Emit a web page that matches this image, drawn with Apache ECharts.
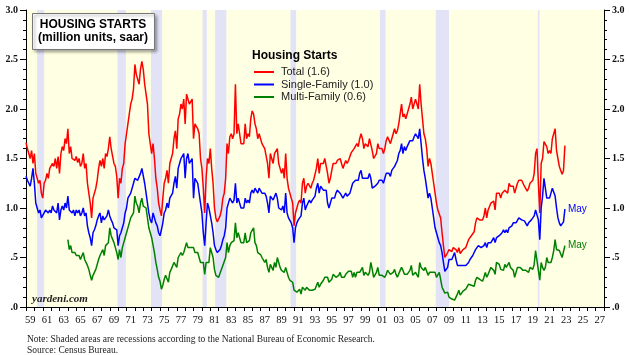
<!DOCTYPE html>
<html><head><meta charset="utf-8">
<script src="https://cdn.jsdelivr.net/npm/echarts@6/dist/echarts.min.js"></script>
<style>html,body{margin:0;padding:0;background:#fff}#c{width:630px;height:355px}</style>
</head><body><div id="c"></div>
<script>
// bi-monthly values (Jan, Mar, May, Jul, Sep, Nov) in million units, saar
const startTotal = 1959;
const total = [
1.66,1.60,1.55,1.50,1.58,1.45,
1.55,1.35,1.30,1.25,1.28,1.15,
1.10,1.25,1.28,1.35,1.30,1.40,
1.38,1.45,1.42,1.50,1.40,1.52,
1.35,1.55,1.62,1.58,1.70,1.65,
1.80,1.55,1.62,1.50,1.52,1.48,
1.52,1.46,1.50,1.42,1.45,1.55,
1.40,1.45,1.25,1.15,1.05,0.90,
1.10,1.12,1.20,1.28,1.40,1.48,
1.42,1.50,1.40,1.55,1.52,1.60,
1.72,1.60,1.58,1.45,1.42,1.32,
1.10,1.30,1.25,1.40,1.45,1.65,
1.75,1.85,1.95,2.05,2.10,2.20,
2.45,2.35,2.30,2.25,2.40,2.48,
2.40,2.25,2.15,2.05,1.75,1.65,
1.55,1.65,1.50,1.30,1.20,1.05,
0.98,0.92,1.10,1.25,1.30,1.38,
1.25,1.45,1.50,1.55,1.70,1.78,
1.60,1.90,1.95,2.05,2.00,2.10,
1.85,2.15,2.15,2.05,2.05,2.10,
1.70,1.85,1.85,1.80,1.75,1.50,
1.40,1.20,0.95,1.30,1.50,1.45,
1.60,1.40,1.25,1.00,0.90,0.86,
0.85,0.92,0.98,1.10,1.15,1.30,
1.65,1.55,1.72,1.75,1.70,1.75,
2.25,1.75,1.85,1.85,1.65,1.65,
1.65,1.85,1.70,1.75,1.72,1.90,
1.98,1.95,1.85,1.80,1.70,1.75,
1.75,1.65,1.65,1.60,1.60,1.45,
1.30,1.55,1.50,1.45,1.55,1.55,
1.60,1.45,1.40,1.35,1.40,1.30,
1.55,1.30,1.20,1.15,1.10,1.05,
0.82,0.95,1.00,1.05,1.08,1.05,
1.25,1.30,1.15,1.22,1.25,1.25,
1.20,1.25,1.28,1.30,1.40,1.50,
1.35,1.45,1.45,1.45,1.50,1.48,
1.35,1.25,1.30,1.38,1.45,1.43,
1.45,1.48,1.50,1.50,1.45,1.40,
1.40,1.48,1.45,1.48,1.50,1.56,
1.55,1.60,1.58,1.65,1.62,1.70,
1.75,1.70,1.60,1.65,1.65,1.62,
1.70,1.70,1.58,1.50,1.52,1.55,
1.65,1.60,1.62,1.60,1.55,1.60,
1.68,1.72,1.70,1.65,1.70,1.75,
1.80,1.75,1.78,1.85,1.95,2.05,
1.92,1.95,1.90,1.95,2.00,2.05,
2.12,2.00,2.05,2.10,2.08,2.00,
2.25,2.05,1.90,1.75,1.70,1.60,
1.42,1.50,1.45,1.35,1.25,1.15,
1.05,0.98,1.00,0.90,0.75,0.62,
0.50,0.50,0.55,0.58,0.58,0.56,
0.60,0.62,0.58,0.55,0.60,0.54,
0.55,0.58,0.57,0.60,0.62,0.68,
0.70,0.72,0.74,0.76,0.85,0.90,
0.92,0.88,0.86,0.88,0.92,1.00,
0.90,0.98,1.00,1.05,1.05,1.07,
0.98,1.15,1.15,1.15,1.10,1.15,
1.15,1.18,1.18,1.15,1.25,1.22,
1.20,1.22,1.15,1.17,1.25,1.28,
1.30,1.28,1.25,1.22,1.22,1.17,
1.20,1.25,1.26,1.28,1.35,1.55,
1.60,1.25,0.95,1.45,1.50,1.67,
1.65,1.62,1.55,1.58,1.55,1.70,
1.70,1.80,1.58,1.50,1.42,1.38,
1.34,1.38,1.63
];
const single = [
1.32,1.28,1.25,1.22,1.30,1.40,
1.25,1.05,1.00,0.95,0.98,0.90,
0.88,0.95,0.98,1.00,0.95,0.98,
0.95,1.02,0.98,1.00,0.95,1.05,
0.88,0.98,1.02,0.98,1.05,1.00,
1.12,0.98,1.00,0.95,0.98,0.92,
0.98,0.95,0.98,0.92,0.95,1.00,
0.92,0.95,0.82,0.75,0.70,0.62,
0.75,0.78,0.82,0.88,0.92,0.95,
0.85,0.92,0.88,0.90,0.92,0.98,
0.92,0.88,0.85,0.80,0.82,0.78,
0.62,0.72,0.75,0.80,0.85,0.95,
1.00,1.10,1.12,1.15,1.20,1.25,
1.30,1.28,1.28,1.30,1.35,1.40,
1.38,1.25,1.15,1.05,0.95,0.88,
0.85,0.95,0.95,0.85,0.82,0.75,
0.72,0.78,0.85,0.95,0.98,1.05,
1.00,1.10,1.12,1.15,1.25,1.32,
1.20,1.40,1.45,1.50,1.48,1.55,
1.30,1.50,1.55,1.45,1.45,1.50,
1.10,1.30,1.30,1.25,1.25,1.05,
0.95,0.75,0.62,0.85,1.05,1.00,
1.00,0.85,0.75,0.62,0.58,0.55,
0.55,0.58,0.62,0.68,0.72,0.80,
1.00,1.00,1.10,1.10,1.05,1.08,
1.25,1.05,1.10,1.10,1.00,1.00,
1.00,1.10,1.05,1.08,1.05,1.15,
1.18,1.15,1.20,1.18,1.15,1.20,
1.22,1.15,1.15,1.15,1.12,1.05,
0.95,1.12,1.10,1.08,1.10,1.15,
1.10,1.00,1.00,0.98,1.02,0.95,
1.15,0.95,0.90,0.88,0.85,0.80,
0.65,0.80,0.85,0.88,0.90,0.92,
1.05,1.10,0.98,1.02,1.05,1.08,
1.05,1.08,1.10,1.12,1.20,1.25,
1.15,1.22,1.20,1.18,1.20,1.18,
1.05,1.00,1.05,1.10,1.12,1.10,
1.15,1.18,1.18,1.15,1.15,1.10,
1.10,1.15,1.12,1.12,1.15,1.20,
1.25,1.25,1.28,1.30,1.28,1.35,
1.38,1.30,1.28,1.30,1.28,1.30,
1.35,1.30,1.20,1.20,1.22,1.20,
1.25,1.28,1.28,1.28,1.25,1.30,
1.35,1.35,1.35,1.32,1.38,1.40,
1.42,1.42,1.48,1.55,1.58,1.65,
1.55,1.62,1.58,1.62,1.65,1.68,
1.70,1.68,1.72,1.75,1.75,1.70,
1.80,1.65,1.50,1.38,1.30,1.20,
1.10,1.15,1.10,1.00,0.90,0.80,
0.75,0.70,0.65,0.62,0.55,0.45,
0.36,0.37,0.40,0.48,0.50,0.48,
0.50,0.55,0.48,0.42,0.43,0.42,
0.42,0.42,0.43,0.42,0.43,0.45,
0.48,0.50,0.52,0.55,0.58,0.60,
0.62,0.60,0.60,0.62,0.62,0.65,
0.60,0.65,0.65,0.65,0.65,0.70,
0.65,0.70,0.72,0.72,0.72,0.75,
0.78,0.75,0.78,0.75,0.80,0.82,
0.82,0.85,0.85,0.85,0.85,0.90,
0.90,0.88,0.88,0.87,0.85,0.82,
0.85,0.85,0.88,0.90,0.92,0.98,
1.00,0.88,0.68,1.00,1.12,1.30,
1.20,1.10,1.08,1.10,1.15,1.20,
1.18,1.12,1.00,0.90,0.85,0.82,
0.82,0.86,0.99
];
const startMulti = 1964;
const multi = [
0.68,0.58,0.62,0.55,0.56,0.55,
0.52,0.50,0.52,0.48,0.50,0.55,
0.48,0.50,0.42,0.38,0.32,0.27,
0.32,0.35,0.38,0.40,0.48,0.52,
0.55,0.58,0.52,0.62,0.60,0.65,
0.80,0.72,0.72,0.65,0.60,0.55,
0.48,0.58,0.50,0.60,0.62,0.70,
0.75,0.75,0.85,0.90,0.90,0.95,
1.12,1.05,1.02,0.95,1.05,1.10,
1.02,1.00,1.00,1.00,0.80,0.75,
0.70,0.70,0.55,0.45,0.38,0.30,
0.26,0.18,0.22,0.28,0.32,0.33,
0.25,0.35,0.38,0.40,0.45,0.46,
0.40,0.50,0.50,0.55,0.52,0.55,
0.55,0.65,0.60,0.60,0.60,0.60,
0.60,0.55,0.55,0.55,0.50,0.45,
0.45,0.45,0.33,0.45,0.45,0.45,
0.60,0.55,0.50,0.38,0.32,0.33,
0.30,0.34,0.36,0.42,0.43,0.50,
0.65,0.55,0.62,0.65,0.65,0.67,
0.85,0.70,0.75,0.75,0.65,0.65,
0.65,0.75,0.65,0.67,0.67,0.75,
0.77,0.80,0.65,0.62,0.55,0.55,
0.53,0.50,0.50,0.45,0.48,0.40,
0.35,0.43,0.40,0.37,0.45,0.40,
0.50,0.45,0.40,0.37,0.38,0.35,
0.40,0.35,0.30,0.27,0.25,0.25,
0.17,0.15,0.15,0.17,0.18,0.13,
0.20,0.20,0.17,0.20,0.20,0.17,
0.15,0.17,0.18,0.18,0.20,0.25,
0.20,0.23,0.25,0.27,0.30,0.30,
0.30,0.25,0.25,0.28,0.33,0.33,
0.30,0.30,0.32,0.35,0.30,0.30,
0.30,0.33,0.33,0.36,0.35,0.36,
0.30,0.35,0.30,0.35,0.34,0.35,
0.37,0.40,0.32,0.35,0.37,0.32,
0.35,0.45,0.38,0.30,0.30,0.35,
0.40,0.32,0.34,0.32,0.30,0.30,
0.33,0.37,0.35,0.33,0.32,0.35,
0.38,0.33,0.30,0.30,0.37,0.40,
0.37,0.33,0.32,0.33,0.35,0.37,
0.42,0.32,0.33,0.35,0.33,0.30,
0.45,0.40,0.40,0.37,0.40,0.40,
0.32,0.35,0.35,0.35,0.35,0.35,
0.30,0.28,0.35,0.28,0.20,0.17,
0.14,0.13,0.15,0.10,0.08,0.08,
0.10,0.07,0.10,0.13,0.17,0.12,
0.13,0.16,0.14,0.18,0.19,0.23,
0.22,0.22,0.22,0.21,0.27,0.30,
0.30,0.28,0.26,0.26,0.30,0.35,
0.30,0.33,0.35,0.40,0.40,0.37,
0.33,0.45,0.43,0.43,0.38,0.40,
0.37,0.43,0.40,0.40,0.45,0.40,
0.38,0.37,0.30,0.32,0.40,0.38,
0.40,0.40,0.37,0.35,0.37,0.35,
0.35,0.40,0.38,0.38,0.43,0.57,
0.58,0.37,0.27,0.45,0.40,0.37,
0.40,0.50,0.45,0.45,0.45,0.50,
0.57,0.68,0.58,0.60,0.57,0.55,
0.50,0.52,0.62
];
// NBER recessions (peak, trough) in decimal years
const recessions = [
[1960.33,1961.17],[1969.92,1970.92],[1973.92,1975.25],[1980.08,1980.58],
[1981.58,1982.92],[1990.58,1991.25],[2001.25,2001.92],[2007.92,2009.5],[2020.1,2020.3]
];
const years = [];
for (let y = 1959; y <= 2027; y++) years.push(String(y % 100).padStart(2, '0'));
const seriesNames = ['Total (1.6)', 'Single-Family (1.0)', 'Multi-Family (0.6)'];

const toPairs = (arr, start) => arr.map((v, i) => [start + i / 6, v]);
const chart = echarts.init(document.getElementById('c'), null, {renderer: 'canvas'});
const yFmt = v => v.toFixed(1).replace(/^0/, '');
const serif = '"Liberation Serif", "Times New Roman", serif';
const sans = '"Liberation Sans", Arial, sans-serif';
const yAxisCommon = {
  type: 'value', min: 0, max: 3, interval: 0.5,
  axisLine: {show: true, lineStyle: {color: '#000', width: 1}},
  axisTick: {show: true, length: 6, lineStyle: {color: '#000'}},
  minorTick: {show: true, splitNumber: 5, length: 3, lineStyle: {color: '#000'}},
  splitLine: {show: false},
  axisLabel: {formatter: yFmt, fontFamily: serif, fontSize: 10, fontWeight: 'bold', color: '#111', margin: 8}
};
chart.setOption({
  animation: false,
  grid: {left: 26, right: 26, top: 10, bottom: 48, show: true, backgroundColor: '#FFFFE3', borderWidth: 0},
  legend: {
    orient: 'vertical', left: 249, top: 61, itemWidth: 20, itemHeight: 2, itemGap: 0.5,
    icon: 'rect', data: seriesNames,
    textStyle: {fontFamily: sans, fontSize: 11, color: '#222', lineHeight: 12, padding: [0, 0, 0, 2]}
  },
  xAxis: [
    {type: 'category', data: years, boundaryGap: true, position: 'bottom',
     axisLine: {show: true, lineStyle: {color: '#000'}},
     axisTick: {show: true, interval: 0, length: 4, lineStyle: {color: '#000'}},
     axisLabel: {interval: 1, fontFamily: serif, fontSize: 10.5, color: '#111', margin: 8}},
    {type: 'value', min: 1959, max: 2028, show: false}
  ],
  yAxis: [
    Object.assign({}, yAxisCommon, {position: 'left'}),
    Object.assign({}, yAxisCommon, {position: 'right'})
  ],
  graphic: [
    {type: 'rect', left: 32, top: 13, shape: {width: 122, height: 36},
     style: {fill: '#fff', stroke: '#777', lineWidth: 1, shadowBlur: 3, shadowOffsetX: 2, shadowOffsetY: 2, shadowColor: 'rgba(0,0,0,0.35)'}, z: 10},
    {type: 'text', x: 93, y: 25, z: 11, style: {text: 'HOUSING STARTS', font: 'bold 12px ' + sans, fill: '#000', align: 'center', verticalAlign: 'middle'}},
    {type: 'text', x: 93, y: 38, z: 11, style: {text: '(million units, saar)', font: 'bold 12px ' + sans, fill: '#000', align: 'center', verticalAlign: 'middle'}},
    {type: 'text', left: 252, top: 50, z: 11, style: {text: 'Housing Starts', font: 'bold 12px ' + sans, fill: '#000'}},
    {type: 'text', left: 32, top: 294, z: 11, style: {text: 'yardeni.com', font: 'italic bold 11px ' + serif, fill: '#222'}},
    {type: 'text', left: 27, top: 334, style: {text: 'Note: Shaded areas are recessions according to the National Bureau of Economic Research.', font: '9.5px ' + serif, fill: '#222'}},
    {type: 'text', left: 27, top: 345, style: {text: 'Source: Census Bureau.', font: '9.5px ' + serif, fill: '#222'}}
  ],
  series: [
    {type: 'line', name: 'recessions', xAxisIndex: 1, yAxisIndex: 0, data: [], silent: true,
     markArea: {silent: true, itemStyle: {color: '#E3E3F7'},
       data: recessions.map(r => [{xAxis: r[0]}, {xAxis: r[1]}])}},
    {type: 'line', name: seriesNames[0], xAxisIndex: 1, yAxisIndex: 0, data: toPairs(total, startTotal),
     showSymbol: false, color: '#FF0000', lineStyle: {width: 1.5}},
    {type: 'line', name: seriesNames[1], xAxisIndex: 1, yAxisIndex: 0, data: toPairs(single, startTotal),
     showSymbol: false, color: '#0000FF', lineStyle: {width: 1.5},
     endLabel: {show: true, formatter: 'May', color: '#0000FF', fontFamily: sans, fontSize: 10, distance: 3}},
    {type: 'line', name: seriesNames[2], xAxisIndex: 1, yAxisIndex: 0, data: toPairs(multi, startMulti),
     showSymbol: false, color: '#008000', lineStyle: {width: 1.5},
     endLabel: {show: true, formatter: 'May', color: '#008000', fontFamily: sans, fontSize: 10, distance: 3}}
  ]
});
</script></body></html>
